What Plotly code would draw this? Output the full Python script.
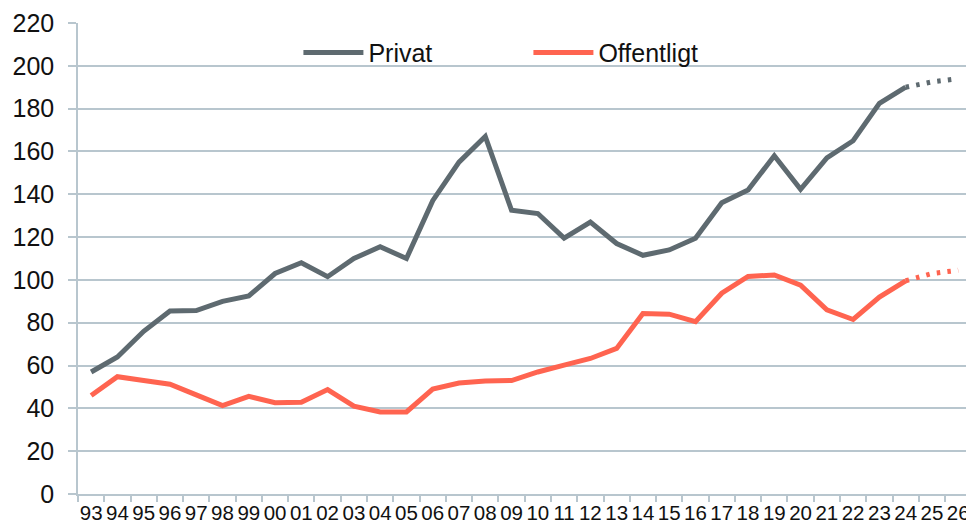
import plotly.graph_objects as go

categories = ["93", "94", "95", "96", "97", "98", "99", "00", "01", "02", "03", "04",
              "05", "06", "07", "08", "09", "10", "11", "12", "13", "14", "15", "16",
              "17", "18", "19", "20", "21", "22", "23", "24", "25", "26"]

privat = [57, 64, 76, 85.5, 85.7, 90, 92.5, 103, 108, 101.5, 110, 115.5,
          110, 137, 155, 167, 132.5, 131, 119.5, 127, 117, 111.5, 114, 119.5,
          136, 142, 158, 142.3, 157, 165, 182.5, 190]
offentligt = [46, 54.8, 53, 51.3, 46.3, 41.3, 45.6, 42.6, 42.8, 48.8, 41, 38.3,
              38.3, 49, 51.8, 52.8, 53, 57, 60.2, 63.3, 68, 84.3, 84, 80.5,
              93.8, 101.6, 102.3, 97.5, 86, 81.5, 92, 99.6]

forecast_categories = ["24", "25", "26"]
privat_forecast = [190, 192.5, 194]
offentligt_forecast = [99.6, 103, 104.5]

y_ticks = list(range(0, 221, 20))

GRAY = "#5E6A70"
RED = "#FF6450"
GRID = "#B8C6CE"
FONT = "Liberation Sans, Arial, sans-serif"

n_hist = len(privat)

fig = go.Figure()
fig.add_trace(go.Scatter(x=categories[:n_hist], y=privat, mode="lines", name="Privat",
                         line=dict(color=GRAY, width=5)))
fig.add_trace(go.Scatter(x=categories[:n_hist], y=offentligt, mode="lines", name="Offentligt",
                         line=dict(color=RED, width=5)))
fig.add_trace(go.Scatter(x=forecast_categories, y=privat_forecast, mode="lines", showlegend=False,
                         line=dict(color=GRAY, width=5, dash="3.5px,7.2px")))
fig.add_trace(go.Scatter(x=forecast_categories, y=offentligt_forecast, mode="lines", showlegend=False,
                         line=dict(color=RED, width=5, dash="3.5px,7.2px")))

fig.update_layout(
    width=966, height=520,
    margin=dict(l=70, r=0, t=15, b=34),
    paper_bgcolor="white", plot_bgcolor="white",
    font=dict(family=FONT, color="#111111"),
    showlegend=True,
    legend=dict(orientation="h", x=0.246, xanchor="left", y=0.937, yanchor="middle",
                font=dict(size=25, family=FONT, color="#111111"),
                bgcolor="rgba(0,0,0,0)", entrywidth=155, entrywidthmode="pixels",
                itemwidth=60),
    xaxis=dict(type="category", categoryorder="array", categoryarray=categories,
               range=[-0.5, 33.6], tickson="boundaries", ticks="outside", ticklen=6,
               tickcolor=GRID, tickwidth=1.5, showgrid=False, showline=True,
               linecolor=GRID, linewidth=1.5, tickangle=0, automargin=False,
               tickfont=dict(size=20.5, family=FONT, color="#111111"), fixedrange=True),
    yaxis=dict(range=[0, 220], tickvals=y_ticks, ticks="outside", ticklen=8,
               tickcolor=GRID, tickwidth=1.5, showgrid=True, gridcolor=GRID, gridwidth=1.5,
               showline=True, linecolor=GRID, linewidth=1.5, zeroline=False,
               automargin=False, ticklabelstandoff=9,
               tickfont=dict(size=25, family=FONT, color="#111111"), fixedrange=True),
)

fig.write_html("out.html")
